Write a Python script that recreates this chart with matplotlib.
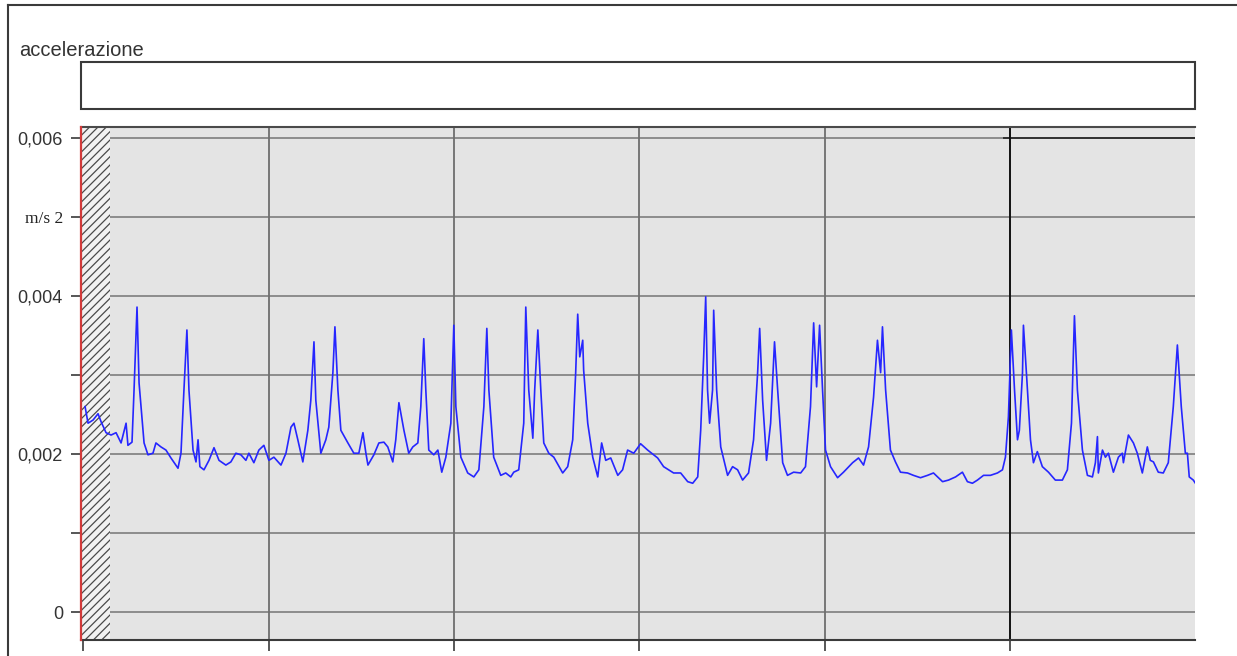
import matplotlib.pyplot as plt
from matplotlib.lines import Line2D
from matplotlib.patches import Rectangle

plt.rcParams['font.family'] = ['Liberation Sans', 'DejaVu Sans']

## dati letti dal grafico
# tempo in divisioni della griglia, accelerazione in 1e-3 m/s2
t = [0.011, 0.027, 0.054, 0.081, 0.097, 0.124, 0.151, 0.178, 0.205, 0.232,
     0.242, 0.264, 0.275, 0.291, 0.302, 0.329, 0.350, 0.377, 0.393, 0.420,
     0.447, 0.474, 0.512, 0.528, 0.544, 0.560, 0.571, 0.593, 0.609, 0.620,
     0.630, 0.652, 0.679, 0.706, 0.733, 0.770, 0.797, 0.824, 0.851, 0.878,
     0.894, 0.921, 0.948, 0.975, 1.002, 1.029, 1.067, 1.094, 1.121, 1.137,
     1.158, 1.185, 1.212, 1.228, 1.245, 1.255, 1.282, 1.309, 1.325, 1.347,
     1.358, 1.374, 1.390, 1.428, 1.460, 1.487, 1.509, 1.525, 1.536, 1.568,
     1.595, 1.622, 1.643, 1.670, 1.686, 1.703, 1.730, 1.756, 1.778, 1.805,
     1.821, 1.837, 1.848, 1.864, 1.891, 1.913, 1.934, 1.956, 1.983, 1.999,
     2.010, 2.037, 2.074, 2.107, 2.134, 2.161, 2.177, 2.188, 2.214, 2.252,
     2.279, 2.306, 2.322, 2.349, 2.376, 2.387, 2.403, 2.425, 2.435, 2.452,
     2.468, 2.484, 2.511, 2.538, 2.586, 2.613, 2.640, 2.656, 2.667, 2.678,
     2.694, 2.699, 2.721, 2.748, 2.775, 2.796, 2.818, 2.845, 2.883, 2.909,
     2.936, 2.969, 3.006, 3.044, 3.098, 3.130, 3.184, 3.222, 3.260, 3.287,
     3.314, 3.330, 3.346, 3.357, 3.367, 3.378, 3.394, 3.400, 3.416, 3.438,
     3.475, 3.502, 3.529, 3.556, 3.588, 3.615, 3.637, 3.648, 3.664, 3.685,
     3.707, 3.728, 3.745, 3.772, 3.798, 3.831, 3.869, 3.895, 3.922, 3.939,
     3.955, 3.971, 3.987, 4.003, 4.030, 4.068, 4.100, 4.149, 4.181, 4.208,
     4.235, 4.262, 4.283, 4.300, 4.310, 4.327, 4.353, 4.380, 4.407, 4.445,
     4.477, 4.515, 4.553, 4.585, 4.634, 4.666, 4.704, 4.741, 4.768, 4.795,
     4.822, 4.855, 4.892, 4.930, 4.957, 4.973, 4.989, 5.005, 5.022, 5.038,
     5.048, 5.065, 5.070, 5.086, 5.108, 5.124, 5.145, 5.172, 5.205, 5.242,
     5.280, 5.307, 5.329, 5.345, 5.361, 5.388, 5.415, 5.442, 5.458, 5.469,
     5.474, 5.496, 5.512, 5.528, 5.555, 5.582, 5.603, 5.609, 5.636, 5.663,
     5.684, 5.711, 5.738, 5.754, 5.771, 5.797, 5.824, 5.851, 5.878, 5.900,
     5.921, 5.943, 5.954, 5.964, 5.986, 5.997]
acc = [2.60, 2.39, 2.43, 2.51, 2.41, 2.27, 2.24, 2.27, 2.14, 2.39,
       2.11, 2.15, 2.81, 3.86, 2.90, 2.14, 1.99, 2.01, 2.14, 2.09,
       2.05, 1.95, 1.82, 2.01, 2.81, 3.57, 2.81, 2.05, 1.90, 2.18,
       1.84, 1.80, 1.92, 2.08, 1.92, 1.86, 1.90, 2.01, 1.99, 1.92,
       2.01, 1.89, 2.05, 2.11, 1.92, 1.96, 1.86, 2.01, 2.34, 2.39,
       2.18, 1.90, 2.30, 2.68, 3.42, 2.68, 2.01, 2.18, 2.34, 3.03,
       3.61, 2.81, 2.30, 2.14, 2.01, 2.01, 2.27, 2.01, 1.86, 1.99,
       2.14, 2.15, 2.09, 1.90, 2.18, 2.65, 2.30, 2.01, 2.09, 2.14,
       2.60, 3.46, 2.81, 2.05, 1.99, 2.05, 1.77, 1.96, 2.39, 3.63,
       2.60, 1.96, 1.76, 1.71, 1.80, 2.60, 3.59, 2.81, 1.96, 1.73,
       1.76, 1.71, 1.77, 1.80, 2.39, 3.86, 2.81, 2.20, 2.81, 3.57,
       2.81, 2.14, 2.01, 1.96, 1.76, 1.84, 2.18, 3.03, 3.77, 3.23,
       3.44, 3.06, 2.39, 1.96, 1.71, 2.14, 1.92, 1.95, 1.73, 1.80,
       2.05, 2.01, 2.13, 2.05, 1.95, 1.84, 1.76, 1.76, 1.65, 1.63,
       1.71, 2.30, 3.23, 3.99, 2.81, 2.39, 2.81, 3.82, 2.81, 2.09,
       1.73, 1.84, 1.80, 1.67, 1.76, 2.18, 3.03, 3.59, 2.68, 1.92,
       2.39, 3.42, 2.81, 1.89, 1.73, 1.77, 1.76, 1.84, 2.60, 3.66,
       2.85, 3.63, 2.81, 2.05, 1.84, 1.70, 1.77, 1.89, 1.95, 1.86,
       2.09, 2.72, 3.44, 3.03, 3.61, 2.81, 2.05, 1.90, 1.77, 1.76,
       1.73, 1.70, 1.73, 1.76, 1.65, 1.67, 1.71, 1.77, 1.65, 1.63,
       1.67, 1.73, 1.73, 1.76, 1.80, 1.96, 2.47, 3.57, 2.81, 2.18,
       2.30, 3.03, 3.63, 3.03, 2.18, 1.89, 2.03, 1.84, 1.77, 1.67,
       1.67, 1.80, 2.39, 3.75, 2.81, 2.05, 1.73, 1.71, 1.89, 2.22,
       1.76, 2.05, 1.96, 2.01, 1.77, 1.96, 2.01, 1.89, 2.24, 2.14,
       2.01, 1.76, 2.09, 1.92, 1.90, 1.77, 1.76, 1.89, 2.60, 3.38,
       2.60, 2.01, 2.01, 1.71, 1.67, 1.63]
SCALE = 1e-3

y_ticks = [0, 0.001, 0.002, 0.003, 0.004, 0.005, 0.006]
y_labels = ['0', '', '0,002', '', '0,004', 'm/s 2', '0,006']
x_ticks = [0, 1, 2, 3, 4, 5]
titolo = 'accelerazione'

W, H = 1237, 656
fig = plt.figure(figsize=(W / 100, H / 100), dpi=100)


def fx(px):
    return px / W


def fy(py):
    return 1 - py / H


ax = fig.add_axes([fx(81), fy(640), (1195 - 81) / W, (640 - 127) / H])
ax.set_facecolor('#e4e4e4')
xmin, xmax = -0.011, 5.995
ymin, ymax = -0.000354, 0.006139
ax.set_xlim(xmin, xmax)
ax.set_ylim(ymin, ymax)

# griglia
ax.hlines(y_ticks, 0.145, xmax, colors='#858585', lw=1.3, zorder=1)
ax.hlines(0.006, 4.96, xmax, colors='#2a2a2a', lw=1.3, zorder=1)
ax.vlines(x_ticks[1:-1], ymin, ymax, colors='#6e6e6e', lw=1.3, zorder=1)
ax.vlines(x_ticks[-1], ymin, ymax, colors='#111111', lw=1.4, zorder=1)

# zona tratteggiata a sinistra
plt.rcParams['hatch.linewidth'] = 0.9
ax.axvspan(xmin, 0.145, facecolor='#f2f2f2', edgecolor='#4a4a4a',
           hatch='////', lw=0, zorder=2)

ax.plot(t, [a * SCALE for a in acc], color='#2626ff', lw=1.2, zorder=4)

for s in ['right']:
    ax.spines[s].set_visible(False)
ax.spines['left'].set_color('#d23a3a')
ax.spines['left'].set_linewidth(1.6)
ax.spines['left'].set_zorder(5)
ax.spines['top'].set_color('#4a4a4a')
ax.spines['top'].set_linewidth(1.5)
ax.spines['bottom'].set_color('#3a3a3a')
ax.spines['bottom'].set_linewidth(1.5)

ax.set_yticks(y_ticks)
ax.set_yticklabels(y_labels)
ax.set_xticks(x_ticks)
ax.set_xticklabels([])
ax.tick_params(axis='y', length=7, width=1.2, color='#3a3a3a',
               labelsize=13, labelcolor='#333333', pad=6)
ax.tick_params(axis='x', length=8, width=1.2, color='#3a3a3a')
lab = ax.get_yticklabels()[5]
lab.set_fontfamily('Liberation Serif')
lab.set_fontsize(12.5)
lab.set_color('#222222')

# titolo e riquadro vuoto sopra il grafico
fig.text(fx(19), fy(50), titolo, fontsize=14.5, va='center', ha='left',
         color='#333333')
fig.add_artist(Rectangle((fx(81), fy(109)), (1195 - 81) / W, (109 - 62) / H,
                         transform=fig.transFigure, fill=False,
                         edgecolor='#3a3a3a', lw=1.5))

# cornice esterna
fig.add_artist(Line2D([fx(8), fx(8)], [fy(5), 0], transform=fig.transFigure,
                      color='#3a3a3a', lw=1.5))
fig.add_artist(Line2D([fx(8), 1], [fy(5), fy(5)], transform=fig.transFigure,
                      color='#3a3a3a', lw=1.5))

fig.savefig('out.png', dpi=100)
